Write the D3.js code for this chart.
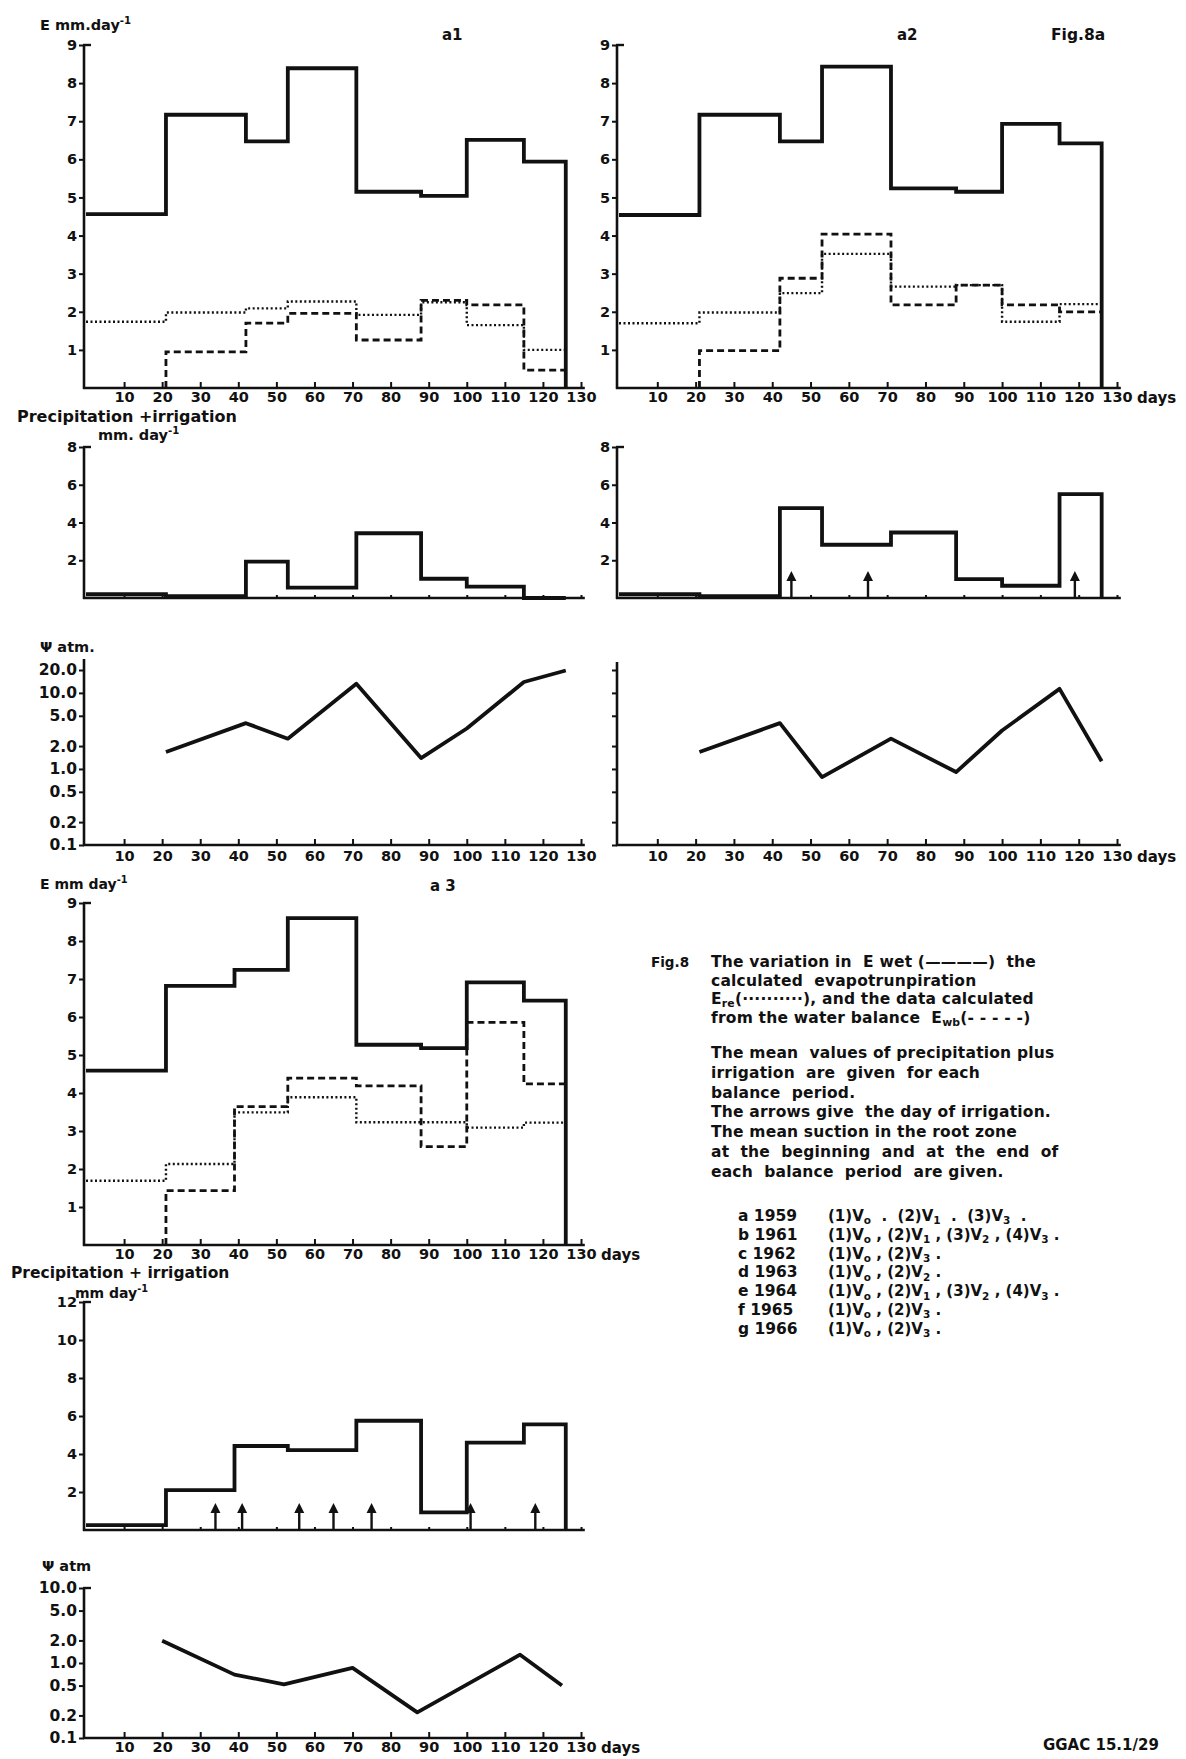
<!DOCTYPE html>
<html>
<head>
<meta charset="utf-8">
<script src="https://cdn.jsdelivr.net/npm/d3@7.9.0/dist/d3.min.js"></script>
<style>
  body { margin: 0; background: #fff; }
  svg text { font-family: "DejaVu Sans", sans-serif; font-weight: bold; fill: #111; white-space: pre; }
</style>
</head>
<body>
<svg id="fig" width="1186" height="1759"></svg>
<script>
// balance periods (day boundaries)
const periodsA = [0, 21, 42, 53, 71, 88, 100, 115, 126];
const periodsA3 = [0, 21, 39, 53, 71, 88, 100, 115, 126];

// evaporation, mm/day, one value per balance period
const ewetA1 = [4.56, 7.17, 6.47, 8.39, 5.15, 5.04, 6.51, 5.94];
const ereA1 = [1.74, 1.98, 2.09, 2.27, 1.92, 2.25, 1.65, 1.0];
const ewbA1 = [null, 0.95, 1.7, 1.96, 1.26, 2.3, 2.18, 0.47];

const ewetA2 = [4.54, 7.17, 6.47, 8.43, 5.24, 5.15, 6.93, 6.42];
const ereA2 = [1.7, 1.98, 2.49, 3.52, 2.66, 2.7, 1.74, 2.2];
const ewbA2 = [null, 0.98, 2.88, 4.04, 2.18, 2.7, 2.18, 2.0];

const ewetA3 = [4.59, 6.82, 7.24, 8.6, 5.27, 5.18, 6.91, 6.43];
const ereA3 = [1.69, 2.13, 3.49, 3.89, 3.23, 3.23, 3.09, 3.22];
const ewbA3 = [null, 1.43, 3.64, 4.39, 4.19, 2.59, 5.86, 4.24];

// precipitation + irrigation, mm/day
const precA1 = [0.2, 0.1, 1.93, 0.55, 3.43, 1.02, 0.6, 0];
const precA2 = [0.2, 0.1, 4.76, 2.82, 3.47, 1.0, 0.65, 5.5];
const precA3 = [0.26, 2.1, 4.42, 4.2, 5.75, 0.93, 4.6, 5.56];

// irrigation days (arrows)
const irrA2 = [45, 65, 119];
const irrA3 = [34, 41, 56, 65, 75, 101, 118];

// mean suction in root zone, atm
const psiDaysA1 = [21, 42, 53, 71, 88, 100, 115, 126];
const psiA1 = [1.67, 4.0, 2.5, 13.2, 1.39, 3.4, 13.9, 19.7];
const psiDaysA2 = [21, 42, 53, 71, 88, 100, 115, 126];
const psiA2 = [1.67, 4.0, 0.78, 2.5, 0.91, 3.2, 11.3, 1.26];
const psiDaysA3 = [20, 39, 52, 70, 87, 114, 125];
const psiA3 = [1.98, 0.70, 0.52, 0.86, 0.22, 1.29, 0.50];

// tick labels
const dayTicks = d3.range(10, 131, 10);
const eTicks = d3.range(1, 10);
const precTicksA = [2, 4, 6, 8];
const precTicksA3 = [2, 4, 6, 8, 10, 12];
const psiTicksA1 = [0.1, 0.2, 0.5, 1, 2, 5, 10, 20];
const psiTicksA3 = [0.1, 0.2, 0.5, 1, 2, 5, 10];

// caption text
const captionLines1 = [
  'The variation in  E wet (————)  the',
  'calculated  evapotrunpiration',
  'E_{re}(··········), and the data calculated',
  'from the water balance  E_{wb}(- - - - -)'
];
const captionLines2 = [
  'The mean  values of precipitation plus',
  'irrigation  are  given  for each',
  'balance  period.',
  'The arrows give  the day of irrigation.',
  'The mean suction in the root zone',
  'at  the  beginning  and  at  the  end  of',
  'each  balance  period  are given.'
];
const yearLabels = ['a 1959', 'b 1961', 'c 1962', 'd 1963', 'e 1964', 'f 1965', 'g 1966'];
const treatments = [
  '(1)V_{o}  .  (2)V_{1}  .  (3)V_{3}  .',
  '(1)V_{o} , (2)V_{1} , (3)V_{2} , (4)V_{3} .',
  '(1)V_{o} , (2)V_{3} .',
  '(1)V_{o} , (2)V_{2} .',
  '(1)V_{o} , (2)V_{1} , (3)V_{2} , (4)V_{3} .',
  '(1)V_{o} , (2)V_{3} .',
  '(1)V_{o} , (2)V_{3} .'
];

const svg = d3.select('#fig');
svg.append('rect').attr('width', 1186).attr('height', 1759).attr('fill', '#fff');
const ink = '#111';

// scales
const xL = d3.scaleLinear().domain([0, 130]).range([86, 581]);
const xR = d3.scaleLinear().domain([0, 130]).range([619, 1117]);
const yE1 = d3.scaleLinear().domain([0, 9]).range([388, 45]);
const yE3 = d3.scaleLinear().domain([0, 9]).range([1245, 903]);
const yP1 = d3.scaleLinear().domain([0, 8]).range([598, 447]);
const yP3 = d3.scaleLinear().domain([0, 12]).range([1530, 1302]);
const yS1 = d3.scaleLog().domain([0.1, 20]).range([845, 670]);
const yS3 = d3.scaleLog().domain([0.1, 10]).range([1738, 1588]);

const psiFmt = d => d >= 1 ? d.toFixed(1) : String(d);

// text with _{sub} and ^{sup}
function rich(x, y, str, size, anchor) {
  const t = svg.append('text').attr('x', x).attr('y', y)
    .attr('font-size', size).attr('text-anchor', anchor || 'start');
  let shift = 0;
  str.split(/(_\{[^}]*\}|\^\{[^}]*\})/).forEach(p => {
    if (!p) return;
    let target = 0, txt = p, fs = size;
    if (p.startsWith('_{')) { target = size * 0.22; txt = p.slice(2, -1); fs = size * 0.7; }
    else if (p.startsWith('^{')) { target = -size * 0.4; txt = p.slice(2, -1); fs = size * 0.7; }
    t.append('tspan').attr('dy', target - shift).attr('font-size', fs).text(txt);
    shift = target;
  });
  return t;
}

function axes(o) {
  const g = svg.append('g');
  const x0 = o.x(0) - 2;
  const yb = o.y.range()[0];
  const ya = g.append('g').attr('transform', `translate(${x0},0)`)
    .call(d3.axisLeft(o.y).tickValues(o.yTicks).tickFormat(o.yFmt).tickSize(5).tickPadding(2));
  ya.select('.domain').remove();
  ya.selectAll('text').attr('font-size', o.yFont || 14.5).attr('font-family', null).attr('fill', ink);
  ya.selectAll('line').attr('stroke', ink).attr('stroke-width', 2);
  g.append('line').attr('x1', x0).attr('x2', x0).attr('y1', yb + 1).attr('y2', o.yTop)
    .attr('stroke', ink).attr('stroke-width', 2.6);
  if (o.cap) g.append('line').attr('x1', x0 - 1).attr('x2', x0 + 7).attr('y1', o.yTop).attr('y2', o.yTop)
    .attr('stroke', ink).attr('stroke-width', 2.4);

  const xa = g.append('g').attr('transform', `translate(0,${yb})`)
    .call(d3.axisBottom(o.x).tickValues(dayTicks).tickFormat(o.xLabels ? d3.format('d') : '')
      .tickSize(o.xLabels ? -6 : -3).tickPadding(o.pad || 4));
  xa.select('.domain').remove();
  xa.selectAll('text').attr('font-size', 14.5).attr('font-family', null).attr('fill', ink);
  xa.selectAll('line').attr('stroke', ink).attr('stroke-width', 2);
  g.append('line').attr('x1', x0 - 1).attr('x2', o.x(131)).attr('y1', yb).attr('y2', yb)
    .attr('stroke', ink).attr('stroke-width', 2.6);
  if (o.days) {
    g.append('text').attr('x', o.x(130) + 20).attr('y', yb + (o.pad || 4) + 10.5)
      .attr('font-size', 15).text('days');
  }
}

function steps(edges, values, dropEnd) {
  const pts = [];
  values.forEach((v, i) => {
    if (v == null) return;
    if (pts.length === 0 && i > 0) pts.push([edges[i], 0]);
    pts.push([edges[i], v], [edges[i + 1], v]);
  });
  if (dropEnd) pts.push([edges[edges.length - 1], 0]);
  return pts;
}

function stepLine(x, y, edges, values, dropEnd, style) {
  const line = d3.line().x(d => x(d[0])).y(d => y(d[1]));
  const p = svg.append('path').attr('d', line(steps(edges, values, dropEnd)))
    .attr('fill', 'none').attr('stroke', ink).attr('stroke-linejoin', 'miter');
  if (style === 'solid') p.attr('stroke-width', 3.8);
  if (style === 'dot') p.attr('stroke-width', 2.4).attr('stroke-dasharray', '2,2.5');
  if (style === 'dash') p.attr('stroke-width', 2.8).attr('stroke-dasharray', '7,4');
}

function psiLine(x, y, days, vals) {
  const line = d3.line().x((d, i) => x(days[i])).y(d => y(d));
  svg.append('path').attr('d', line(vals)).attr('fill', 'none')
    .attr('stroke', ink).attr('stroke-width', 3.8).attr('stroke-linejoin', 'round');
}

function arrows(x, y, days) {
  const base = y(0);
  days.forEach(d => {
    const cx = x(d);
    svg.append('line').attr('x1', cx).attr('x2', cx).attr('y1', base).attr('y2', base - 20)
      .attr('stroke', ink).attr('stroke-width', 2.4);
    svg.append('path').attr('d', `M${cx - 5},${base - 17}L${cx},${base - 27}L${cx + 5},${base - 17}Z`)
      .attr('fill', ink);
  });
}

// ---- a1 ----
axes({ x: xL, y: yE1, yTicks: eTicks, yFmt: d3.format('d'), yTop: 45, cap: true, xLabels: true });
stepLine(xL, yE1, periodsA, ewetA1, true, 'solid');
stepLine(xL, yE1, periodsA, ereA1, false, 'dot');
stepLine(xL, yE1, periodsA, ewbA1, false, 'dash');
rich(40, 30, 'E mm.day^{-1}', 14.5);
rich(442, 40, 'a1', 15);

axes({ x: xL, y: yP1, yTicks: precTicksA, yFmt: d3.format('d'), yTop: 447, cap: true, xLabels: false });
stepLine(xL, yP1, periodsA, precA1, true, 'solid');
rich(17, 422, 'Precipitation +irrigation', 16);
rich(98, 440, 'mm. day^{-1}', 14.5);

axes({ x: xL, y: yS1, yTicks: psiTicksA1, yFmt: psiFmt, yTop: 659, cap: false, xLabels: true, pad: 6, yFont: 15.5 });
psiLine(xL, yS1, psiDaysA1, psiA1);
rich(40, 652, 'Ψ atm.', 14.5);

// ---- a2 ----
axes({ x: xR, y: yE1, yTicks: eTicks, yFmt: d3.format('d'), yTop: 45, cap: true, xLabels: true, days: true });
stepLine(xR, yE1, periodsA, ewetA2, true, 'solid');
stepLine(xR, yE1, periodsA, ereA2, false, 'dot');
stepLine(xR, yE1, periodsA, ewbA2, false, 'dash');
rich(897, 40, 'a2', 15);
rich(1051, 40, 'Fig.8a', 15.5);

axes({ x: xR, y: yP1, yTicks: precTicksA, yFmt: d3.format('d'), yTop: 447, cap: true, xLabels: false });
stepLine(xR, yP1, periodsA, precA2, true, 'solid');
arrows(xR, yP1, irrA2);

axes({ x: xR, y: yS1, yTicks: psiTicksA1, yFmt: () => '', yTop: 662, cap: false, xLabels: true, pad: 6, days: true });
psiLine(xR, yS1, psiDaysA2, psiA2);

// ---- a3 ----
axes({ x: xL, y: yE3, yTicks: eTicks, yFmt: d3.format('d'), yTop: 903, cap: true, xLabels: true, days: true });
stepLine(xL, yE3, periodsA3, ewetA3, true, 'solid');
stepLine(xL, yE3, periodsA3, ereA3, false, 'dot');
stepLine(xL, yE3, periodsA3, ewbA3, false, 'dash');
rich(40, 889, 'E mm day^{-1}', 14);
rich(430, 891, 'a 3', 15);

axes({ x: xL, y: yP3, yTicks: precTicksA3, yFmt: d3.format('d'), yTop: 1302, cap: true, xLabels: false });
stepLine(xL, yP3, periodsA3, precA3, true, 'solid');
arrows(xL, yP3, irrA3);
rich(11, 1278, 'Precipitation + irrigation', 15.5);
rich(75, 1298, 'mm day^{-1}', 14);

axes({ x: xL, y: yS3, yTicks: psiTicksA3, yFmt: psiFmt, yTop: 1588, cap: true, xLabels: true, pad: 4, days: true, yFont: 15.5 });
psiLine(xL, yS3, psiDaysA3, psiA3);
rich(42, 1571, 'Ψ atm', 14.5);

// ---- caption ----
rich(651, 967, 'Fig.8', 13.5);
captionLines1.forEach((s, i) => rich(711, 967 + i * 18.5, s, 15.5).attr('letter-spacing', 0.2));
captionLines2.forEach((s, i) => rich(711, 1058 + i * 19.8, s, 15.5).attr('letter-spacing', 0.2));
yearLabels.forEach((s, i) => {
  rich(738, 1221 + i * 18.8, s, 15.5);
  rich(828, 1221 + i * 18.8, treatments[i], 15);
});
rich(1043, 1750, 'GGAC 15.1/29', 15);
</script>
</body>
</html>
